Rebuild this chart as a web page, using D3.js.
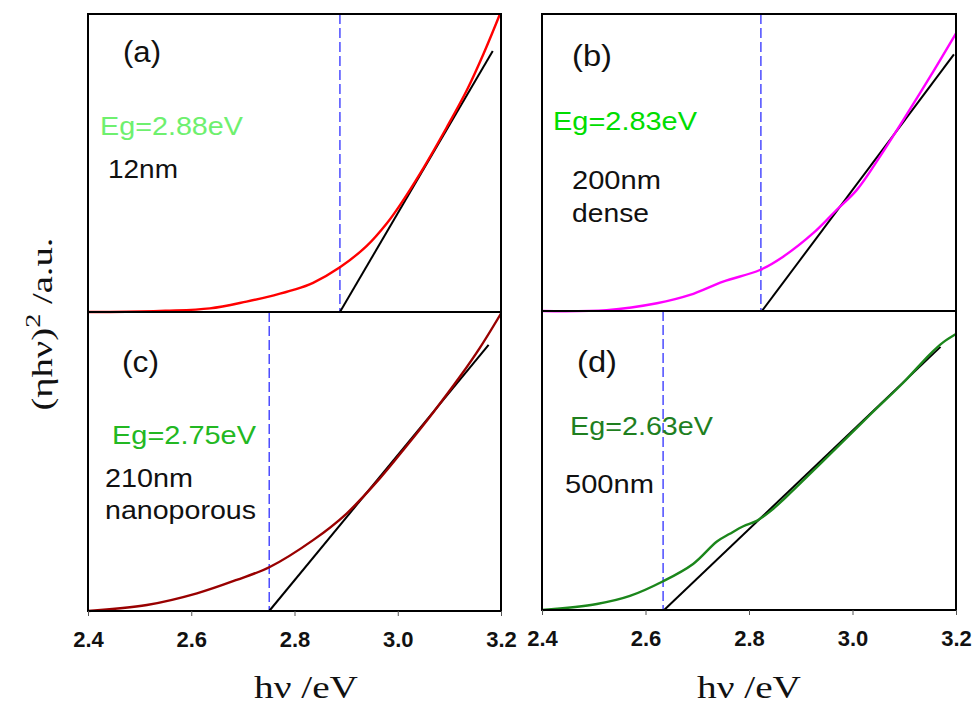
<!DOCTYPE html>
<html>
<head>
<meta charset="utf-8">
<script src="https://cdn.jsdelivr.net/npm/d3@7"></script>
<style>
  html, body { margin: 0; padding: 0; background: #fff; }
  svg { display: block; }
</style>
</head>
<body>
<div id="container"></div>
<script>
/* ---------- CONSTANTS AND GLOBALS ---------- */
const width = 972,
  height = 708;

// x ticks shared by the bottom panels
const xTicks = [2.4, 2.6, 2.8, 3.0, 3.2];

// (eta h nu)^2 curves, y normalised to panel height
const curveA = [[2.40, 0], [2.443, 0.0], [2.55, 0.004], [2.636, 0.012], [2.707, 0.035], [2.76, 0.056],
  [2.798, 0.074], [2.836, 0.098], [2.888, 0.150], [2.940, 0.222], [2.979, 0.298], [3.004, 0.358],
  [3.050, 0.484], [3.095, 0.620], [3.134, 0.745], [3.166, 0.866], [3.198, 1.0]];
const curveB = [[2.40, 0], [2.525, 0.003], [2.622, 0.026], [2.686, 0.054], [2.750, 0.099],
  [2.821, 0.138], [2.866, 0.183], [2.924, 0.262], [2.969, 0.340], [3.008, 0.407], [3.053, 0.520],
  [3.098, 0.643], [3.150, 0.789], [3.200, 0.935]];
const curveC = [[2.40, 0], [2.514, 0.02], [2.611, 0.059], [2.688, 0.104], [2.753, 0.148],
  [2.836, 0.237], [2.901, 0.326], [2.966, 0.445], [3.017, 0.552], [3.069, 0.665], [3.121, 0.785],
  [3.159, 0.880], [3.200, 0.995]];
const curveD = [[2.40, 0], [2.506, 0.02], [2.570, 0.047], [2.634, 0.096], [2.692, 0.154],
  [2.738, 0.229], [2.763, 0.255], [2.789, 0.280], [2.815, 0.298], [2.841, 0.330], [2.866, 0.368],
  [2.892, 0.412], [2.969, 0.542], [3.034, 0.653], [3.098, 0.760], [3.150, 0.856], [3.175, 0.895],
  [3.200, 0.923]];

// linear fits (start, end)
const fitA = [[2.888, 0], [3.184, 0.876]];
const fitB = [[2.825, 0], [3.196, 0.864]];
const fitC = [[2.751, 0], [3.176, 0.890]];
const fitD = [[2.636, 0], [3.170, 0.880]];

// dashed band-gap markers
const egPositions = [2.888, 2.823, 2.751, 2.634];
const egLabels = ["Eg=2.88eV", "Eg=2.83eV", "Eg=2.75eV", "Eg=2.63eV"];
const panelLetters = ["(a)", "(b)", "(c)", "(d)"];
const sampleLabels = [["12nm"], ["200nm", "dense"], ["210nm", "nanoporous"], ["500nm"]];

/* ---------- LAYOUT ---------- */
const panels = [
  { x0: 88, x1: 501, y0: 14, y1: 312, curve: curveA, fit: fitA, color: "#ff0000", egColor: "#6ef06e",
    letter: [123, 62, 38], eg: [100, 135, 143], sample: [[108, 178, 70]], axis: false },
  { x0: 542, x1: 956, y0: 14, y1: 311, curve: curveB, fit: fitB, color: "#ff00ff", egColor: "#00dd00",
    letter: [572, 66, 40], eg: [553, 130, 144], sample: [[572, 189, 89], [572, 222, 77]], axis: false },
  { x0: 88, x1: 501, y0: 312, y1: 611, curve: curveC, fit: fitC, color: "#990000", egColor: "#22b822",
    letter: [122, 372, 37], eg: [112, 444, 144], sample: [[105, 487, 88], [105, 519, 151]], axis: true },
  { x0: 542, x1: 956, y0: 311, y1: 610, curve: curveD, fit: fitD, color: "#1b861b", egColor: "#1f7f1f",
    letter: [577, 372, 40], eg: [570, 435, 143], sample: [[565, 493, 89]], axis: true }
];

const svg = d3.select("#container")
  .append("svg")
  .attr("width", width)
  .attr("height", height);

panels.forEach((p, i) => {
  const xScale = d3.scaleLinear().domain([2.4, 3.2]).range([p.x0, p.x1]);
  const yScale = d3.scaleLinear().domain([0, 1]).range([p.y1, p.y0]);
  const g = svg.append("g");

  // dashed Eg line
  g.append("line")
    .attr("x1", xScale(egPositions[i]))
    .attr("x2", xScale(egPositions[i]))
    .attr("y1", yScale(1))
    .attr("y2", yScale(0))
    .attr("stroke", "#3030ff")
    .attr("stroke-width", 1.3)
    .attr("stroke-dasharray", "10,4");

  const line = d3.line()
    .x(d => xScale(d[0]))
    .y(d => yScale(d[1]))
    .curve(d3.curveCatmullRom.alpha(0.5));

  // fitted straight line
  g.append("path")
    .attr("d", d3.line().x(d => xScale(d[0])).y(d => yScale(d[1]))(p.fit))
    .attr("fill", "none")
    .attr("stroke", "#000")
    .attr("stroke-width", 2);

  // data curve
  g.append("path")
    .attr("d", line(p.curve))
    .attr("fill", "none")
    .attr("stroke", p.color)
    .attr("stroke-width", 2.4);

  // frame
  g.append("rect")
    .attr("x", p.x0)
    .attr("y", p.y0)
    .attr("width", p.x1 - p.x0)
    .attr("height", p.y1 - p.y0)
    .attr("fill", "none")
    .attr("stroke", "#000")
    .attr("stroke-width", 2);

  // + AXIS (bottom panels only)
  if (p.axis) {
    const axis = svg.append("g")
      .attr("transform", `translate(0,${p.y1})`)
      .call(d3.axisBottom(xScale)
        .tickValues(xTicks)
        .tickSize(5)
        .tickPadding(15)
        .tickFormat(d3.format(".1f")));
    axis.select(".domain").remove();
    axis.selectAll(".tick line").attr("stroke", "#555").attr("stroke-width", 1);
    axis.selectAll(".tick text")
      .attr("fill", "#111")
      .style("font-family", "Arial, 'Liberation Sans', sans-serif")
      .style("font-weight", "bold")
      .style("font-size", "22px");
  }

  // + TEXT
  const sans = "Arial, 'Liberation Sans', sans-serif";
  g.append("text")
    .attr("x", p.letter[0]).attr("y", p.letter[1])
    .attr("textLength", p.letter[2]).attr("lengthAdjust", "spacingAndGlyphs")
    .style("font-family", sans).style("font-size", "30px")
    .attr("fill", "#111")
    .text(panelLetters[i]);

  g.append("text")
    .attr("x", p.eg[0]).attr("y", p.eg[1])
    .attr("textLength", p.eg[2]).attr("lengthAdjust", "spacingAndGlyphs")
    .style("font-family", sans).style("font-size", "25px")
    .attr("fill", p.egColor)
    .text(egLabels[i]);

  sampleLabels[i].forEach((s, j) => {
    g.append("text")
      .attr("x", p.sample[j][0]).attr("y", p.sample[j][1])
      .attr("textLength", p.sample[j][2]).attr("lengthAdjust", "spacingAndGlyphs")
      .style("font-family", sans).style("font-size", "25px")
      .attr("fill", "#111")
      .text(s);
  });
});

// + AXIS TITLES
const serif = "'Times New Roman', 'Liberation Serif', serif";
[306, 749].forEach(cx => {
  svg.append("text")
    .attr("x", cx).attr("y", 698)
    .attr("text-anchor", "middle")
    .attr("textLength", 104).attr("lengthAdjust", "spacingAndGlyphs")
    .style("font-family", serif).style("font-size", "31px")
    .attr("fill", "#111")
    .text("hν /eV");
});

const yTitle = svg.append("text")
  .attr("transform", "translate(52,324) rotate(-90)")
  .attr("text-anchor", "middle")
  .attr("textLength", 173).attr("lengthAdjust", "spacingAndGlyphs")
  .style("font-family", serif).style("font-size", "30px")
  .attr("fill", "#111");
yTitle.append("tspan").text("(ηhν)");
yTitle.append("tspan").attr("dy", -12).style("font-size", "22px").text("2");
yTitle.append("tspan").attr("dy", 12).text(" /a.u.");
</script>
</body>
</html>
